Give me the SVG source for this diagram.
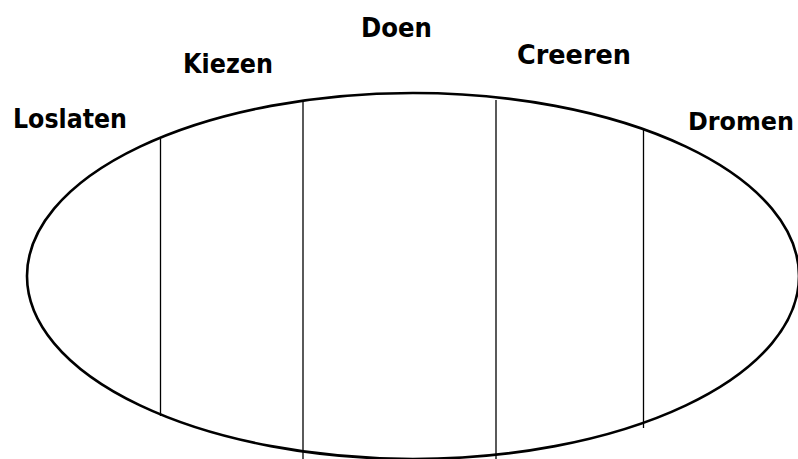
<svg xmlns="http://www.w3.org/2000/svg" width="798" height="459" viewBox="0 0 798 459">
<style>
.lbl{font-family:"DejaVu Sans","Liberation Sans",sans-serif;font-weight:bold;font-size:27px;fill:#000}
.div{stroke:#000;stroke-width:1.3;fill:none}
</style>
<rect width="798" height="459" fill="#fff"/>
<g id="connectors">
<line class="div" x1="160.5" y1="139" x2="160.5" y2="416"/>
<line class="div" x1="303" y1="101" x2="303" y2="459"/>
<line class="div" x1="496" y1="100" x2="496" y2="459"/>
<line class="div" x1="643.5" y1="128" x2="643.5" y2="428"/>
</g>
<g id="ellipse">
<ellipse cx="413" cy="276" rx="386" ry="183" fill="none" stroke="#000" stroke-width="2.6"/>
</g>
<g id="loslaten"><text class="lbl" x="13" y="128" textLength="114" lengthAdjust="spacingAndGlyphs">Loslaten</text></g>
<g id="kiezen"><text class="lbl" x="183" y="73" textLength="90" lengthAdjust="spacingAndGlyphs">Kiezen</text></g>
<g id="doen"><text class="lbl" x="361" y="37" textLength="71" lengthAdjust="spacingAndGlyphs">Doen</text></g>
<g id="creeren"><text class="lbl" x="517" y="64" textLength="114" lengthAdjust="spacingAndGlyphs">Creeren</text></g>
<g id="dromen"><text class="lbl" x="688" y="130" style="font-size:24px" textLength="106" lengthAdjust="spacingAndGlyphs">Dromen</text></g>
</svg>
